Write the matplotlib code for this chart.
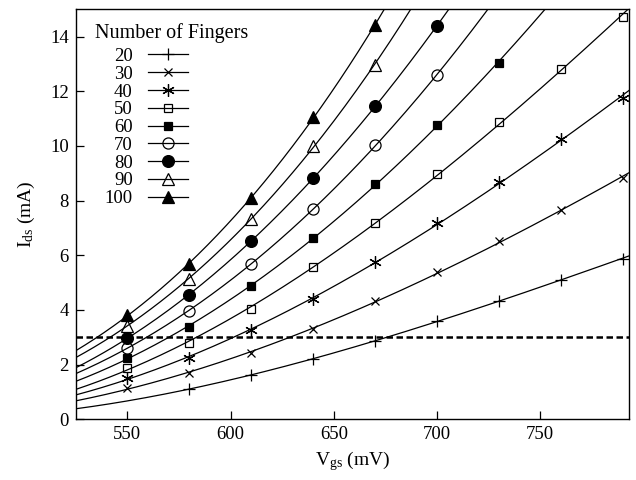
import numpy as np
import matplotlib
matplotlib.use("Agg")
import matplotlib.pyplot as plt
from matplotlib.lines import Line2D

plt.rcParams['font.family'] = ['Liberation Serif', 'DejaVu Serif']
plt.rcParams['mathtext.fontset'] = 'custom'
plt.rcParams['mathtext.rm'] = 'Liberation Serif'
plt.rcParams['mathtext.it'] = 'Liberation Serif:italic'

# ---- data ----
fingers = ["20", "30", "40", "50", "60", "70", "80", "90", "100"]

vgs_20 = [580, 610, 640, 670, 700, 730, 760, 790]
ids_20 = [1.12, 1.61, 2.19, 2.88, 3.59, 4.34, 5.10, 5.88]

vgs_30 = [550, 580, 610, 640, 670, 700, 730, 760, 790]
ids_30 = [1.14, 1.69, 2.43, 3.31, 4.31, 5.38, 6.53, 7.66, 8.82]

vgs_40 = [550, 580, 610, 640, 670, 700, 730, 760, 790]
ids_40 = [1.51, 2.25, 3.25, 4.41, 5.74, 7.20, 8.69, 10.24, 11.76]

vgs_50 = [550, 580, 610, 640, 670, 700, 730, 760, 790]
ids_50 = [1.87, 2.80, 4.04, 5.56, 7.18, 8.99, 10.88, 12.80, 14.71]

vgs_60 = [550, 580, 610, 640, 670, 700, 730]
ids_60 = [2.24, 3.39, 4.86, 6.63, 8.62, 10.77, 13.04]

vgs_70 = [550, 580, 610, 640, 670, 700]
ids_70 = [2.62, 3.95, 5.68, 7.71, 10.04, 12.58]

vgs_80 = [550, 580, 610, 640, 670, 700]
ids_80 = [2.98, 4.53, 6.53, 8.84, 11.46, 14.38]

vgs_90 = [550, 580, 610, 640, 670]
ids_90 = [3.43, 5.14, 7.32, 10.00, 12.98]

vgs_100 = [550, 580, 610, 640, 670]
ids_100 = [3.80, 5.68, 8.11, 11.07, 14.41]

threshold_ids = 3.0
xticks = [550, 600, 650, 700, 750]
yticks = [0, 2, 4, 6, 8, 10, 12, 14]

series_x = [vgs_20, vgs_30, vgs_40, vgs_50, vgs_60, vgs_70, vgs_80, vgs_90, vgs_100]
series_y = [ids_20, ids_30, ids_40, ids_50, ids_60, ids_70, ids_80, ids_90, ids_100]

# ---- styles ----
styles = [
    dict(marker='+', ms=9, mew=0.9, mfc='none'),
    dict(marker='x', ms=6, mew=0.9, mfc='none'),
    dict(marker=(6, 2, 0), ms=9, mew=0.9, mfc='none'),
    dict(marker='s', ms=5.5, mew=0.9, mfc='none'),
    dict(marker='s', ms=6, mew=0.9, mfc='black'),
    dict(marker='o', ms=8, mew=0.9, mfc='none'),
    dict(marker='o', ms=8.5, mew=0.9, mfc='black'),
    dict(marker='^', ms=8.5, mew=0.9, mfc='none'),
    dict(marker='^', ms=8.5, mew=0.9, mfc='black'),
]

fig = plt.figure(figsize=(6.36, 4.8), dpi=100)
ax = fig.add_axes([0.119, 0.1265, 0.870, 0.854])

xmin, xmax = 525, 793
xf = np.linspace(xmin, xmax + 5, 300)
handles = []
for xs, ys, st, lab in zip(series_x, series_y, styles, fingers):
    # smooth fitted curve (quadratic fit of sqrt of current)
    coef = np.polyfit(xs, np.sqrt(ys), 2)
    ax.plot(xf, np.polyval(coef, xf) ** 2, color='black', lw=0.9, zorder=2)
    ax.plot(xs, ys, ls='none', color='black', zorder=3, **st)
    handles.append(Line2D([], [], color='black', lw=0.9, **st))

ax.axhline(threshold_ids, color='black', lw=1.8, dashes=(2.6, 1.4), zorder=4)

ax.set_xlim(xmin, xmax)
ax.set_ylim(0, 15)
ax.set_xticks(xticks)
ax.set_yticks(yticks)
ax.tick_params(direction='in', length=6, width=0.9, labelsize=13.5,
               top=False, right=False, pad=5)
for sp in ax.spines.values():
    sp.set_linewidth(1.0)

ax.set_xlabel(r'V$_{\mathrm{gs}}$ (mV)', fontsize=14, labelpad=4)
ax.set_ylabel(r'I$_{\mathrm{ds}}$ (mA)', fontsize=14, labelpad=9)

ax.text(0.035, 0.943, 'Number of Fingers', transform=ax.transAxes,
        fontsize=14.5, ha='left', va='center')

leg = ax.legend(handles, fingers, loc='upper right',
                bbox_to_anchor=(0.203, 0.906), frameon=False, markerfirst=False,
                fontsize=13.5, handlelength=2.15,
                handletextpad=0.8, labelspacing=0.035, borderpad=0.0,
                borderaxespad=0.0)

fig.savefig('out.png', dpi=100)
